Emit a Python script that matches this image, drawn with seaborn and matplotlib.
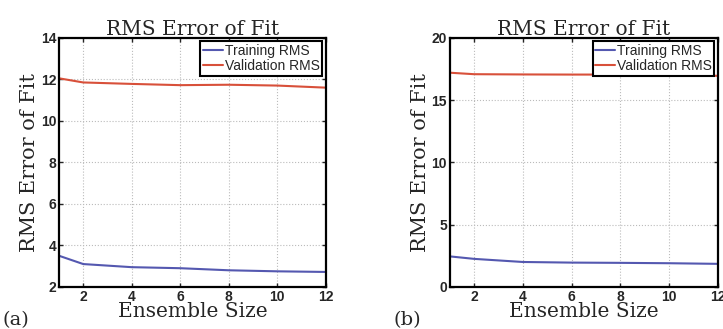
import pandas as pd
import numpy as np
import matplotlib.pyplot as plt
import seaborn as sns

sns.set_theme(style="ticks")
plt.rcParams['font.family'] = ['DejaVu Serif']

# Data
ensemble_size = [1, 2, 4, 6, 8, 10, 12]
train_a = [3.5, 3.1, 2.95, 2.9, 2.8, 2.75, 2.72]
valid_a = [12.05, 11.85, 11.78, 11.72, 11.74, 11.7, 11.6]
train_b = [2.45, 2.25, 2.0, 1.95, 1.93, 1.9, 1.85]
valid_b = [17.2, 17.08, 17.06, 17.05, 17.05, 17.02, 16.95]

yticks_a = [2, 4, 6, 8, 10, 12, 14]
yticks_b = [0, 5, 10, 15, 20]
xticks = [2, 4, 6, 8, 10, 12]

colors = {'Training RMS': '#5458b0', 'Validation RMS': '#d8503a'}

fig = plt.figure(figsize=(7.23, 3.29), dpi=100)
ax_a = fig.add_axes([0.0816, 0.128, 0.369, 0.757])
ax_b = fig.add_axes([0.622, 0.128, 0.371, 0.757])

panels = [
    (ax_a, train_a, valid_a, yticks_a, '(a)'),
    (ax_b, train_b, valid_b, yticks_b, '(b)'),
]

for ax, tr, va, yt, tag in panels:
    df = pd.DataFrame({
        'size': ensemble_size * 2,
        'rms': tr + va,
        'series': ['Training RMS'] * len(tr) + ['Validation RMS'] * len(va),
    })
    sns.lineplot(data=df, x='size', y='rms', hue='series', palette=colors,
                 linewidth=1.5, ax=ax)
    ax.set_xlim(1, 12)
    ax.set_ylim(yt[0], yt[-1])
    ax.set_xticks(xticks)
    ax.set_yticks(yt)
    ax.tick_params(direction='in', top=True, right=True, length=3, width=1,
                   labelsize=10, pad=2)
    for lab in ax.get_xticklabels() + ax.get_yticklabels():
        lab.set_fontfamily('Liberation Sans')
        lab.set_fontweight('bold')
    ax.grid(True, linestyle=':', color='#bbbbbb', linewidth=0.8)
    for sp in ax.spines.values():
        sp.set_linewidth(1.6)
        sp.set_color('black')
    ax.set_title('RMS Error of Fit', fontsize=14.5, pad=2)
    ax.set_xlabel('Ensemble Size', fontsize=14.5, labelpad=-1)
    ax.set_ylabel('RMS Error of Fit', fontsize=15, labelpad=1)
    leg = ax.legend(loc='upper right', title=None,
                    prop={'family': 'Liberation Sans', 'size': 10},
                    handlelength=1.4, handletextpad=0.15, borderpad=0.2,
                    labelspacing=0.05, borderaxespad=0.25, fancybox=False,
                    framealpha=1)
    leg.get_frame().set_edgecolor('black')
    leg.get_frame().set_linewidth(1.5)
    pos = ax.get_position()
    fig.text(pos.x0 - 0.078, 0.012, tag, fontsize=14)

fig.savefig('out.png', dpi=100)
